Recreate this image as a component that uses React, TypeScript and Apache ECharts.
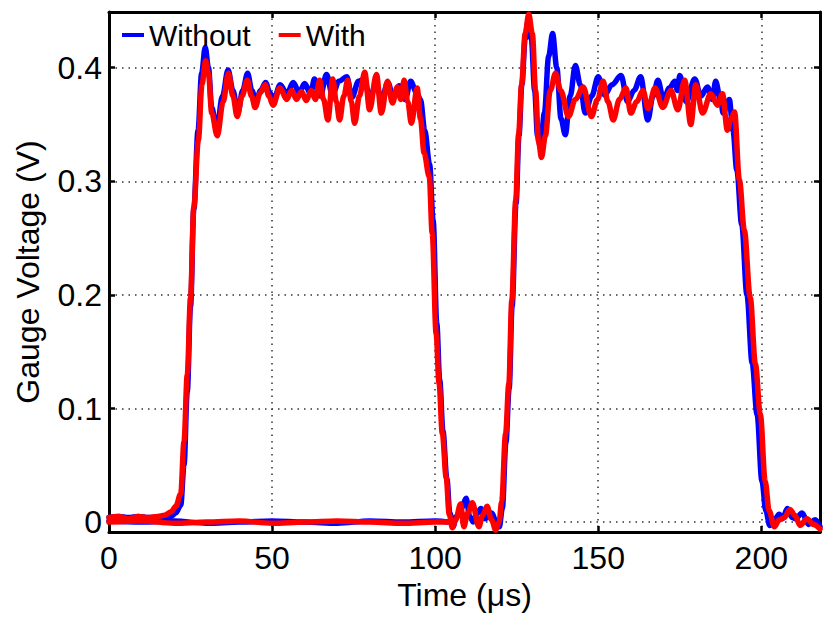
import React, { useEffect, useRef } from "react";
import * as echarts from "echarts";

const seriesNames = ["Without", "With"];
const xTicks = [0, 50, 100, 150, 200];
const yTicks = [0, 0.1, 0.2, 0.3, 0.4];

// "Without" (blue) main trace [time µs, volts]
const withoutMain: [number, number][] = [
  [0, 0.004], [3, 0.005], [6, 0.004], [9, 0.005], [12, 0.004], [15, 0.004], [17, 0.004], [19, 0.005],
  [20.5, 0.008], [22, 0.015], [23, 0.05], [24, 0.115], [25, 0.19], [26, 0.275], [27.3, 0.345],
  [28.4, 0.395], [29.5, 0.418], [30.5, 0.4], [31.5, 0.365], [33, 0.345], [34.8, 0.375], [36.5, 0.398],
  [38, 0.38], [39.5, 0.36], [41, 0.38], [42.5, 0.395], [43.8, 0.38], [45, 0.37], [46.5, 0.38],
  [48, 0.387], [49.3, 0.378], [50.5, 0.372], [52.5, 0.385], [54.5, 0.377], [56.5, 0.387], [58.3, 0.378],
  [60, 0.386], [61.8, 0.377], [63, 0.39], [64.8, 0.375], [66.7, 0.394], [68.5, 0.376], [70.5, 0.388],
  [72.9, 0.392], [74.5, 0.374], [76.5, 0.388], [78.3, 0.39], [80, 0.372], [81.8, 0.386], [83.6, 0.372],
  [85.5, 0.387], [87.2, 0.374], [89, 0.384], [90.8, 0.372], [92.5, 0.388], [94.3, 0.378], [95.5, 0.372],
  [96.8, 0.345], [98.3, 0.315], [99.4, 0.265], [100.5, 0.175], [101.4, 0.125], [102.4, 0.08],
  [103.6, 0.038], [104.5, 0.008], [105.5, -0.004], [106.5, 0.005], [108, 0.012], [109.5, 0.021],
  [110.6, 0.005], [111.7, 0.0], [113, 0.008], [114, 0.012], [115.3, 0.003], [117.4, 0.008],
  [118.7, 0.0], [119.7, -0.004], [120.6, 0.012], [121.7, 0.07], [122.7, 0.118], [123.6, 0.19],
  [124.8, 0.28], [125.7, 0.34], [126.6, 0.385], [127.6, 0.425], [128.4, 0.44], [129.5, 0.425],
  [130.5, 0.38], [131.4, 0.34], [132.3, 0.33], [133.5, 0.36], [134.8, 0.41], [136, 0.43], [137.3, 0.4],
  [138.6, 0.355], [139.9, 0.341], [141.4, 0.375], [143, 0.402], [144.5, 0.385], [146, 0.36],
  [148, 0.375], [150, 0.392], [152, 0.376], [154.2, 0.385], [157, 0.393], [159, 0.37], [161, 0.38],
  [163, 0.392], [165.2, 0.354], [166.8, 0.375], [168.3, 0.389], [170, 0.372], [171.8, 0.382],
  [173.5, 0.388], [174.3, 0.38], [175, 0.393], [177, 0.37], [179.6, 0.39], [181.5, 0.375],
  [183.5, 0.383], [185, 0.372], [186, 0.388], [187.6, 0.37], [188.3, 0.36], [190.2, 0.372],
  [191.3, 0.345], [192.5, 0.31], [194, 0.262], [195.6, 0.2], [197.2, 0.14], [198.7, 0.095],
  [200.2, 0.036], [201.4, 0.01], [202.6, -0.003], [204, 0.002], [205.5, 0.007], [206.5, 0.003],
  [208, 0.012], [209.5, 0.004], [210.5, 0.003], [212.5, 0.008], [214.5, -0.002], [216.5, 0.002],
  [218, -0.004],
];

// "Without" (blue) flat baseline trace
const withoutBase: [number, number][] = [
  [0, 0.001], [10, 0.0], [20, 0.001], [30, -0.001], [40, 0.0], [50, 0.001], [60, 0.0],
  [70, -0.001], [80, 0.001], [90, 0.0], [100, 0.001], [104.5, 0.0],
];

// "With" (red) main trace
const withMain: [number, number][] = [
  [0, 0.004], [3, 0.005], [6, 0.003], [9, 0.005], [12, 0.004], [15, 0.005], [17, 0.006], [19, 0.009],
  [20.5, 0.014], [22, 0.025], [23, 0.071], [24, 0.13], [25, 0.198], [26, 0.277], [27.4, 0.336],
  [28.5, 0.385], [29.6, 0.406], [30.5, 0.395], [31.5, 0.36], [33.2, 0.34], [35, 0.37], [36.6, 0.395],
  [38, 0.375], [39.3, 0.357], [40.8, 0.375], [42.4, 0.389], [43.7, 0.375], [44.8, 0.365],
  [46.4, 0.378], [47.9, 0.385], [49, 0.375], [50.3, 0.367], [52.4, 0.382], [54.5, 0.372], [56, 0.38],
  [57.5, 0.372], [59, 0.379], [60.5, 0.371], [62, 0.38], [63.3, 0.372], [64.6, 0.389], [65.8, 0.372],
  [67.1, 0.354], [68.6, 0.39], [69.7, 0.37], [70.7, 0.354], [72, 0.375], [73.2, 0.389], [74.3, 0.37],
  [75.3, 0.351], [76.8, 0.375], [78.4, 0.396], [79.9, 0.363], [82, 0.394], [83.5, 0.36], [85.4, 0.388],
  [86.9, 0.369], [88.4, 0.383], [89.5, 0.372], [90.5, 0.389], [91.6, 0.37], [92.7, 0.351],
  [94.5, 0.382], [95.5, 0.355], [96.6, 0.325], [98.2, 0.304], [99.1, 0.254], [100.3, 0.166],
  [101.2, 0.122], [102.2, 0.078], [103.4, 0.039], [104.3, 0.007], [105.3, -0.005], [106.3, 0.002],
  [107.8, 0.016], [108.8, -0.004], [110, 0.008], [111.4, 0.017], [113.4, -0.004], [114.6, 0.006],
  [115.9, 0.014], [117.3, 0.002], [118.6, -0.007], [119.6, 0.0], [120.4, 0.018], [121.6, 0.078],
  [122.6, 0.122], [123.5, 0.195], [124.7, 0.283], [125.6, 0.342], [126.5, 0.385], [127.6, 0.43],
  [128.7, 0.447], [129.8, 0.43], [130.8, 0.38], [131.7, 0.335], [132.6, 0.321], [133.8, 0.34],
  [135.3, 0.38], [136.9, 0.395], [138.5, 0.38], [140.9, 0.357], [143, 0.372], [145.4, 0.383],
  [147.9, 0.357], [149.8, 0.372], [151.5, 0.388], [153, 0.37], [154.6, 0.354], [156.5, 0.372],
  [158.5, 0.382], [160, 0.36], [161.8, 0.37], [163.7, 0.38], [165.3, 0.364], [167.4, 0.382],
  [169.8, 0.365], [172.3, 0.38], [174.4, 0.363], [176.5, 0.389], [178.4, 0.35], [179.9, 0.385],
  [182, 0.36], [184.5, 0.377], [186.6, 0.367], [188.1, 0.377], [189.6, 0.345], [190.7, 0.355],
  [191.8, 0.361], [193.3, 0.301], [194.8, 0.257], [196.6, 0.198], [198.2, 0.139], [199.7, 0.095],
  [201.2, 0.036], [202.4, 0.01], [204, -0.004], [205.5, 0.002], [207, 0.004], [208.8, 0.011],
  [210.3, 0.006], [211.9, -0.003], [214, 0.003], [216, -0.002], [218, -0.006],
];

// "With" (red) flat baseline trace
const withBase: [number, number][] = [
  [0, 0.0], [10, 0.001], [20, -0.001], [30, 0.0], [40, 0.001], [50, -0.001], [60, 0.0],
  [70, 0.001], [80, 0.0], [90, -0.001], [100, 0.0], [104.5, 0.0],
];

const X_MIN = 0;
const X_MAX = 218;
const Y_MIN = -0.0087;
const Y_MAX = 0.449;

const FONT = "'Liberation Sans', Arial, Helvetica, sans-serif";

export default function App() {
  const ref = useRef<HTMLDivElement>(null);

  useEffect(() => {
    if (!ref.current) return;
    const chart = echarts.init(ref.current, undefined, { renderer: "svg" });

    const gridLine = { show: true, lineStyle: { color: "#333", width: 1.5, type: [1.5, 5] as any } };
    const boxLine = { show: true, onZero: false, lineStyle: { color: "#000", width: 3 } };
    const tick = { show: true, inside: true, length: 6, lineStyle: { color: "#000", width: 2.5 } };

    const isMajorX = (v: number) => xTicks.some((t) => Math.abs(t - v) < 1e-6);
    const isMajorY = (v: number) => yTicks.some((t) => Math.abs(t - v) < 1e-6);

    const lineSeries = (name: string, data: [number, number][], color: string) => ({
      type: "line",
      name,
      data,
      color,
      symbol: "none",
      showSymbol: false,
      smooth: 0.35,
      smoothMonotone: "x",
      lineStyle: { width: 5.5, color, join: "round", cap: "round" },
      itemStyle: { color },
      emphasis: { disabled: true },
      silent: true,
    });

    chart.setOption({
      animation: false,
      backgroundColor: "#fff",
      grid: { left: 109, right: 1, top: 12, bottom: 87, containLabel: false },
      legend: {
        data: seriesNames,
        left: 117,
        top: 15,
        orient: "horizontal",
        itemWidth: 22,
        itemHeight: 4,
        itemGap: 28,
        icon: "rect",
        textStyle: { fontFamily: FONT, fontSize: 30, color: "#000" },
        selectedMode: false,
      },
      xAxis: [
        {
          type: "value",
          min: X_MIN,
          max: X_MAX,
          interval: 50,
          position: "bottom",
          axisLine: boxLine,
          axisTick: tick,
          splitLine: gridLine,
          axisLabel: {
            fontFamily: FONT,
            fontSize: 32,
            color: "#000",
            margin: 10,
            formatter: (v: number) => (isMajorX(v) ? String(v) : ""),
          },
          name: "Time (\u03bcs)",
          nameLocation: "middle",
          nameGap: 47,
          nameTextStyle: { fontFamily: FONT, fontSize: 32, color: "#000" },
        },
        {
          type: "value",
          min: X_MIN,
          max: X_MAX,
          interval: 50,
          position: "top",
          axisLine: boxLine,
          axisTick: tick,
          splitLine: { show: false },
          axisLabel: { show: false },
        },
      ],
      yAxis: [
        {
          type: "value",
          min: Y_MIN,
          max: Y_MAX,
          splitNumber: 5,
          position: "left",
          axisLine: boxLine,
          axisTick: tick,
          splitLine: gridLine,
          axisLabel: {
            fontFamily: FONT,
            fontSize: 32,
            color: "#000",
            margin: 7,
            formatter: (v: number) => (isMajorY(v) ? String(Math.round(v * 10) / 10) : ""),
          },
          name: "Gauge Voltage (V)",
          nameLocation: "middle",
          nameGap: 65,
          nameTextStyle: { fontFamily: FONT, fontSize: 32, color: "#000" },
        },
        {
          type: "value",
          min: Y_MIN,
          max: Y_MAX,
          splitNumber: 5,
          position: "right",
          axisLine: boxLine,
          axisTick: tick,
          splitLine: { show: false },
          axisLabel: { show: false },
        },
      ],
      series: [
        lineSeries("Without", withoutMain, "#0000ff"),
        lineSeries("Without", withoutBase, "#0000ff"),
        lineSeries("With", withMain, "#ff0000"),
        lineSeries("With", withBase, "#ff0000"),
      ],
    });

    return () => chart.dispose();
  }, []);

  return (
    <div
      ref={ref}
      style={{ position: "absolute", left: 0, top: 0, width: 823, height: 619 }}
    />
  );
}
